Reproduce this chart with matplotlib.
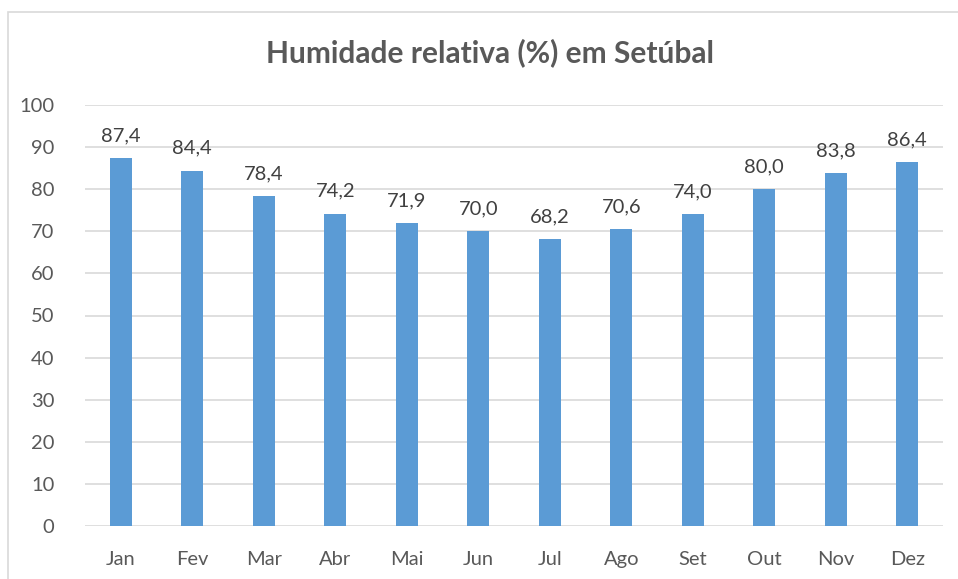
import matplotlib.pyplot as plt
import matplotlib.patches as patches

meses = ["Jan", "Fev", "Mar", "Abr", "Mai", "Jun", "Jul", "Ago", "Set", "Out", "Nov", "Dez"]
humidade = [87.4, 84.4, 78.4, 74.2, 71.9, 70.0, 68.2, 70.6, 74.0, 80.0, 83.8, 86.4]
y_ticks = [0, 10, 20, 30, 40, 50, 60, 70, 80, 90, 100]

plt.rcParams['font.family'] = ['Lato', 'DejaVu Sans']

fig = plt.figure(figsize=(9.58, 5.79), dpi=100)
ax = fig.add_axes([85/958, 1-526/579, 858/958, 421/579])

# frame around the chart
fig.patches.append(patches.Rectangle((8/958, -0.01), 1.0, 1-12/579+0.01, transform=fig.transFigure,
                                     fill=False, edgecolor='#d9d9d9', linewidth=1.2))

x = list(range(len(meses)))
ax.bar(x, humidade, width=0.31, color='#5b9bd5', zorder=3)

for xi, v in zip(x, humidade):
    ax.text(xi, v + 3.3, ("%.1f" % v).replace(".", ","), ha='center', va='bottom',
            fontsize=14.5, color='#404040')

ax.set_xlim(-0.5, len(meses) - 0.5)
ax.set_ylim(0, 100)
ax.set_yticks(y_ticks)
ax.set_xticks(x)
ax.set_xticklabels(meses)
ax.grid(axis='y', color='#d9d9d9', linewidth=1.2, zorder=0)
ax.tick_params(axis='both', length=0, labelsize=14.5, labelcolor='#595959')
ax.tick_params(axis='x', pad=18)
ax.tick_params(axis='y', pad=22)
for s in ax.spines.values():
    s.set_visible(False)

fig.text(490/958, 1-53/579, "Humidade relativa (%) em Setúbal", ha='center', va='center',
         fontsize=21.5, fontweight='bold', color='#595959')

fig.savefig("out.png", dpi=100)
